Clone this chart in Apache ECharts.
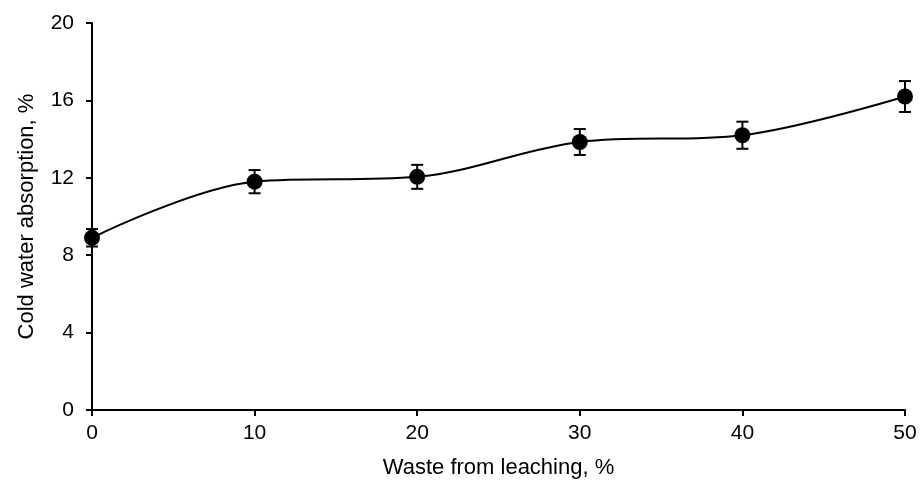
<!DOCTYPE html>
<html>
<head>
<meta charset="utf-8">
<script src="https://cdn.jsdelivr.net/npm/echarts@6/dist/echarts.min.js"></script>
<style>
  html, body { margin: 0; padding: 0; background: #fff; }
  #main { width: 922px; height: 486px; }
</style>
</head>
<body>
<div id="main"></div>
<script>
const waste = [0, 10, 20, 30, 40, 50]
const absorption = [8.9, 11.8, 12.05, 13.85, 14.2, 16.2]
const errors = [0.45, 0.6, 0.62, 0.67, 0.7, 0.8]

const myChart = echarts.init(document.getElementById('main'))
const font = 'Liberation Sans, Arial, sans-serif'

const option = {
  animation: false,
  grid: { left: 92, right: 17, top: 23, bottom: 76 },
  xAxis: {
    type: 'value',
    min: 0, max: 50, interval: 10,
    name: 'Waste from leaching, %',
    nameLocation: 'middle',
    nameGap: 47,
    nameTextStyle: { fontFamily: font, fontSize: 22, color: '#000' },
    axisLine: { lineStyle: { color: '#000', width: 2 } },
    axisTick: { inside: false, length: 6, lineStyle: { color: '#000', width: 2 } },
    axisLabel: { fontFamily: font, fontSize: 21, color: '#000', margin: 13 },
    splitLine: { show: false }
  },
  yAxis: {
    type: 'value',
    min: 0, max: 20, interval: 4,
    name: 'Cold water absorption, %',
    nameLocation: 'middle',
    nameGap: 54,
    nameTextStyle: { fontFamily: font, fontSize: 22, color: '#000' },
    axisLine: { show: true, lineStyle: { color: '#000', width: 2 } },
    axisTick: { show: true, inside: false, length: 6, lineStyle: { color: '#000', width: 2 } },
    axisLabel: { fontFamily: font, fontSize: 21, color: '#000', margin: 18 },
    splitLine: { show: false }
  },
  series: [
    {
      type: 'line',
      data: waste.map((x, i) => [x, absorption[i]]),
      smooth: 0.35,
      symbol: 'circle',
      symbolSize: 16,
      itemStyle: { color: '#000' },
      lineStyle: { color: '#000', width: 2 },
      z: 3
    },
    {
      type: 'custom',
      data: waste.map((x, i) => [x, absorption[i] - errors[i], absorption[i] + errors[i]]),
      renderItem: (params, api) => {
        const lo = api.coord([api.value(0), api.value(1)])
        const hi = api.coord([api.value(0), api.value(2)])
        const w = 6
        const style = { stroke: '#000', lineWidth: 2 }
        return {
          type: 'group',
          children: [
            { type: 'line', shape: { x1: lo[0], y1: lo[1], x2: hi[0], y2: hi[1] }, style },
            { type: 'line', shape: { x1: lo[0] - w, y1: lo[1], x2: lo[0] + w, y2: lo[1] }, style },
            { type: 'line', shape: { x1: hi[0] - w, y1: hi[1], x2: hi[0] + w, y2: hi[1] }, style }
          ]
        }
      },
      z: 2
    }
  ]
}
option && myChart.setOption(option)
</script>
</body>
</html>
